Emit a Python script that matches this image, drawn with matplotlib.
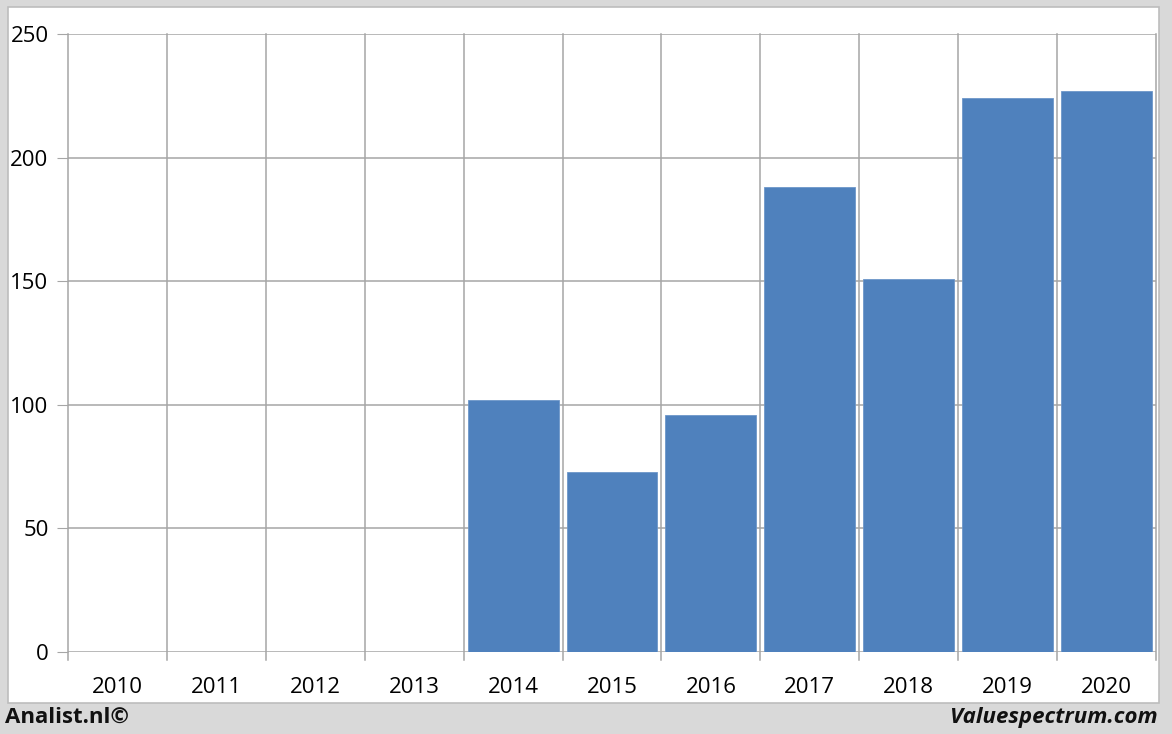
import matplotlib
matplotlib.use("Agg")
import matplotlib.pyplot as plt
from matplotlib.patches import Rectangle

years = ["2010", "2011", "2012", "2013", "2014", "2015", "2016", "2017", "2018", "2019", "2020"]
values = [None, None, None, None, 102, 73, 96, 188, 151, 224, 227]
yticks = [0, 50, 100, 150, 200, 250]

W, H = 1172, 734
fig = plt.figure(figsize=(W / 100, H / 100), dpi=100)
fig.patch.set_facecolor("#d9d9d9")
panel = Rectangle((8 / W, 1 - 703 / H), (1159 - 8) / W, (703 - 7) / H,
                  transform=fig.transFigure, facecolor="white",
                  edgecolor="#bdbdbd", linewidth=1.2, zorder=-10)
fig.patches.append(panel)

ax = fig.add_axes([68 / W, 1 - 652 / H, (1156 - 68) / W, (652 - 34) / H])
ax.set_zorder(5)
ax.set_facecolor("none")
n = len(years)
xs = list(range(n))
for x, v in zip(xs, values):
    if v is not None:
        ax.bar(x, v, width=0.92, color="#4f81bd", edgecolor="#6d97c9", linewidth=0.6, zorder=3)

ax.set_xlim(-0.5, n - 0.5)
ax.set_ylim(0, 250)
ax.set_yticks(yticks)
ax.set_yticklabels([str(t) for t in yticks], fontsize=16, family="Open Sans")
ax.set_xticks(xs)
ax.set_xticklabels(years, fontsize=16, family="Open Sans")
ax.tick_params(axis="x", length=0, pad=18)
ax.tick_params(axis="y", length=8, color="#a6a6a6", pad=6)

# horizontal gridlines
for t in yticks:
    ax.axhline(t, color="#a6a6a6", linewidth=1.1, zorder=1)
# vertical category boundaries, extending slightly below the axis
for b in [i - 0.5 for i in range(n + 1)]:
    ax.plot([b, b], [-3.3, 250], color="#a6a6a6", linewidth=1.1, zorder=1, clip_on=False)

for s in ax.spines.values():
    s.set_visible(False)

fig.text(5 / W, 1 - 717 / H, "Analist.nl©", fontsize=16, fontweight="bold",
         family="Open Sans", ha="left", va="center", color="#111111")
fig.text(1158 / W, 1 - 717 / H, "Valuespectrum.com", fontsize=16, fontweight="bold",
         style="italic", family="Open Sans", ha="right", va="center", color="#111111")

fig.savefig("out.png", dpi=100, facecolor=fig.get_facecolor())
